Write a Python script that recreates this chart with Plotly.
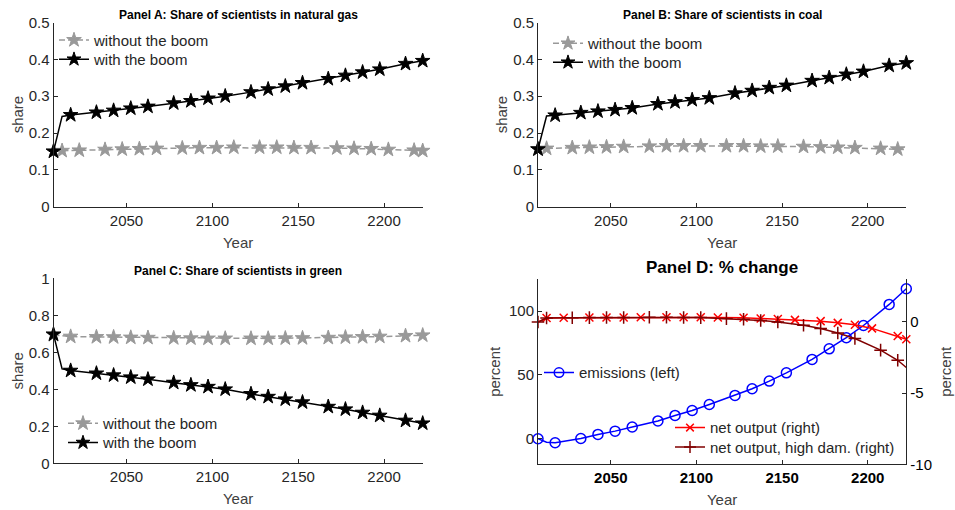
import plotly.graph_objects as go

# ---------------- data ----------------
# Panel A: share of scientists in natural gas
years_A_without = [2007.5, 2012.5, 2022.5, 2037.5, 2047.5, 2057.5, 2067.5, 2082.5, 2092.5, 2102.5, 2112.5,
                   2127.5, 2137.5, 2147.5, 2157.5, 2172.5, 2182.5, 2192.5, 2202.5, 2217.5, 2222.5]
share_A_without = [0.150, 0.152, 0.153, 0.155, 0.156, 0.157, 0.158, 0.159, 0.160, 0.160, 0.161,
                   0.161, 0.161, 0.160, 0.160, 0.159, 0.158, 0.157, 0.155, 0.153, 0.152]
years_A_with = [2007.5, 2012.5, 2017.5, 2032.5, 2042.5, 2052.5, 2062.5, 2077.5, 2087.5, 2097.5, 2107.5,
                2122.5, 2132.5, 2142.5, 2152.5, 2167.5, 2177.5, 2187.5, 2197.5, 2212.5, 2222.5]
share_A_with = [0.150, 0.245, 0.249, 0.256, 0.261, 0.267, 0.272, 0.281, 0.287, 0.294, 0.300,
                0.311, 0.319, 0.327, 0.336, 0.347, 0.356, 0.365, 0.373, 0.388, 0.396]

# Panel B: share of scientists in coal
years_B_without = [2007.5, 2012.5, 2027.5, 2037.5, 2047.5, 2057.5, 2072.5, 2082.5, 2092.5, 2102.5, 2117.5,
                   2127.5, 2137.5, 2147.5, 2162.5, 2172.5, 2182.5, 2192.5, 2207.5, 2217.5, 2222.5]
share_B_without = [0.156, 0.158, 0.160, 0.161, 0.162, 0.163, 0.164, 0.165, 0.165, 0.165, 0.165,
                   0.165, 0.164, 0.164, 0.163, 0.162, 0.161, 0.160, 0.158, 0.156, 0.155]
years_B_with = years_A_with
share_B_with = [0.156, 0.246, 0.248, 0.255, 0.259, 0.263, 0.268, 0.279, 0.284, 0.290, 0.295,
                0.308, 0.315, 0.323, 0.329, 0.342, 0.350, 0.359, 0.367, 0.383, 0.390]

# Panel C: share of scientists in green
years_C_without = [2007.5, 2017.5, 2032.5, 2042.5, 2052.5, 2062.5, 2077.5, 2087.5, 2097.5, 2107.5,
                   2122.5, 2132.5, 2142.5, 2152.5, 2167.5, 2177.5, 2187.5, 2197.5, 2212.5, 2222.5]
share_C_without = [0.694, 0.685, 0.683, 0.682, 0.680, 0.679, 0.677, 0.676, 0.675, 0.675,
                   0.675, 0.675, 0.676, 0.677, 0.679, 0.681, 0.683, 0.685, 0.689, 0.692]
years_C_with = years_A_with
share_C_with = [0.697, 0.510, 0.501, 0.486, 0.476, 0.465, 0.454, 0.436, 0.423, 0.414, 0.400,
                0.375, 0.360, 0.346, 0.330, 0.306, 0.292, 0.274, 0.258, 0.231, 0.216]

# Panel D: % change
years_D_emis = years_A_with
pct_emissions = [0.0, -2.7, -3.1, 0.2, 3.4, 6.0, 9.2, 14.0, 18.3, 22.2, 26.9,
                 34.0, 39.2, 45.2, 51.7, 62.2, 70.5, 79.2, 88.8, 105.3, 117.6]
years_D_net = years_A_without
pct_net_output = [0.0, 0.28, 0.30, 0.31, 0.32, 0.32, 0.33, 0.33, 0.33, 0.33, 0.32,
                  0.30, 0.25, 0.21, 0.15, 0.06, -0.06, -0.20, -0.45, -0.98, -1.21]
years_D_high = years_B_without
pct_net_output_high = [0.0, 0.28, 0.30, 0.31, 0.32, 0.32, 0.33, 0.33, 0.32, 0.31, 0.24,
                       0.19, 0.11, 0.00, -0.23, -0.46, -0.77, -1.16, -1.98, -2.69, -3.20]

# points of each line drawn without a marker
unmarked_A_with = [2012.5]
unmarked_B_without = [2222.5]
unmarked_D_emis = [2012.5]
unmarked_D_net = [2007.5]
unmarked_D_high = [2222.5]

x_ticks = [2050, 2100, 2150, 2200]

# ---------------- style ----------------
FONT = "Liberation Sans, Arial, Helvetica, sans-serif"
TXT = "#262626"
AXC = "#262626"
GRAY = "#999999"
BLACK = "#000000"
BLUE = "#0000ff"
RED = "#ff0000"
DARKRED = "#800000"
W, H = 955, 510
FS = 15
ROW_OFF = 17.0   # legend top -> first row centre


def px_x(a, b):
    return [a / W, b / W]


def px_y(top, bottom):
    return [1 - bottom / H, 1 - top / H]


def msize(years, unmarked, s):
    return [0 if yr in unmarked else s for yr in years]


fig = go.Figure()


def star_trace(x, y, name, color, dash, xa, ya, leg, unmarked=()):
    return go.Scatter(
        x=x, y=y, name=name, mode="lines+markers", cliponaxis=False,
        line=dict(color=color, width=1.5, dash=dash),
        marker=dict(symbol="star", size=msize(x, unmarked, 11), color=color, opacity=1,
                    line=dict(color=color, width=1)),
        xaxis=xa, yaxis=ya, legend=leg)


fig.add_trace(star_trace(years_A_without, share_A_without, "without the boom", GRAY, "6px,3px", "x", "y", "legend"))
fig.add_trace(star_trace(years_A_with, share_A_with, "with the boom", BLACK, "solid", "x", "y", "legend2", unmarked_A_with))
fig.add_trace(star_trace(years_B_without, share_B_without, "without the boom", GRAY, "6px,3px", "x2", "y2", "legend3", unmarked_B_without))
fig.add_trace(star_trace(years_B_with, share_B_with, "with the boom", BLACK, "solid", "x2", "y2", "legend4", unmarked_A_with))
fig.add_trace(star_trace(years_C_without, share_C_without, "without the boom", GRAY, "6px,3px", "x3", "y3", "legend5"))
fig.add_trace(star_trace(years_C_with, share_C_with, "with the boom", BLACK, "solid", "x3", "y3", "legend6", unmarked_A_with))

fig.add_trace(go.Scatter(
    x=years_D_emis, y=pct_emissions, name="emissions (left)", mode="lines+markers", cliponaxis=False,
    line=dict(color=BLUE, width=1.5),
    marker=dict(symbol="circle-open", size=msize(years_D_emis, unmarked_D_emis, 10), color=BLUE, opacity=1,
                line=dict(color=BLUE, width=1.5)),
    xaxis="x4", yaxis="y4", legend="legend7"))
fig.add_trace(go.Scatter(
    x=years_D_net, y=pct_net_output, name="net output (right)", mode="lines+markers", cliponaxis=False,
    line=dict(color=RED, width=1.5),
    marker=dict(symbol="x-thin-open", size=msize(years_D_net, unmarked_D_net, 8), color=RED, opacity=1,
                line=dict(color=RED, width=1.5)),
    xaxis="x4", yaxis="y5", legend="legend8"))
fig.add_trace(go.Scatter(
    x=years_D_high, y=pct_net_output_high, name="net output, high dam. (right)", mode="lines+markers",
    cliponaxis=False,
    line=dict(color=DARKRED, width=1.5),
    marker=dict(symbol="cross-thin-open", size=msize(years_D_high, unmarked_D_high, 9), color=DARKRED,
                opacity=1, line=dict(color=DARKRED, width=1.5)),
    xaxis="x4", yaxis="y5", legend="legend9"))

common_ax = dict(showline=True, linecolor=AXC, linewidth=1, ticks="inside", ticklen=4,
                 tickcolor=AXC, showgrid=False, zeroline=False,
                 tickfont=dict(family=FONT, size=FS, color=TXT))


def xaxis(domain, anchor, bold=False):
    d = dict(common_ax)
    d.update(domain=domain, anchor=anchor, range=[2007.5, 2222.5], tickvals=x_ticks,
             title=dict(text="Year", font=dict(family=FONT, size=FS, color="#404040"), standoff=9))
    if bold:
        d["tickfont"] = dict(family=FONT, size=FS, color="#000000", weight="bold")
    return d


def yaxis(domain, anchor, rng, dtick, title="share", standoff=1):
    d = dict(common_ax)
    d.update(domain=domain, anchor=anchor, range=rng, dtick=dtick, tick0=0,
             title=dict(text=title, font=dict(family=FONT, size=FS, color="#404040"), standoff=standoff))
    return d


XA = px_x(53.5, 422.7)
XB = px_x(538, 906.3)
YT = px_y(22.5, 206.7)
YC = px_y(278.3, 463.3)
YD = px_y(279.3, 464.3)

legend_common = dict(bgcolor="rgba(0,0,0,0)", borderwidth=0, xanchor="left", yanchor="top",
                     font=dict(family=FONT, size=FS, color="#262626"), itemwidth=30)


def leg(x_px, row_px):
    return dict(legend_common, x=x_px / W, y=1 - (row_px - ROW_OFF) / H)


fig.update_layout(
    width=W, height=H, margin=dict(l=0, r=0, t=0, b=0, autoexpand=False),
    paper_bgcolor="white", plot_bgcolor="white",
    font=dict(family=FONT, size=FS, color=TXT),
    xaxis=xaxis(XA, "y"), yaxis=yaxis(YT, "x", [0, 0.5], 0.1),
    xaxis2=xaxis(XB, "y2"), yaxis2=yaxis(YT, "x2", [0, 0.5], 0.1),
    xaxis3=xaxis(XA, "y3"), yaxis3=yaxis(YC, "x3", [0, 1], 0.2),
    xaxis4=xaxis(XB, "y4", bold=True),
    yaxis4=yaxis(YD, "x4", [-20, 125], 50, title="percent", standoff=4),
    yaxis5=dict(common_ax, domain=YD, anchor="x4", overlaying="y4", side="right", range=[-10, 3],
                tickvals=[-10, -5, 0], ticktext=["-10", "-5", "0"],
                tickfont=dict(family=FONT, size=FS, color="#000000"),
                title=dict(text="percent", font=dict(family=FONT, size=FS, color="#404040"), standoff=9)),
    legend=leg(54, 40.7), legend2=leg(54, 60),
    legend3=leg(548, 44), legend4=leg(548, 63),
    legend5=leg(63, 424), legend6=leg(63, 443.3),
    legend7=leg(539, 373.3),
    legend8=leg(670, 428.3), legend9=leg(670, 447.7),
    showlegend=True,
)

titles = [
    ("Panel A: Share of scientists in natural gas", 238, 15, 12),
    ("Panel B: Share of scientists in coal", 722, 15, 12),
    ("Panel C: Share of scientists in green", 238, 271, 12),
    ("Panel D: % change", 722, 267, 17),
]
for text, cx, cy, size in titles:
    fig.add_annotation(text=text, x=cx / W, y=1 - cy / H, xref="paper", yref="paper",
                       xanchor="center", yanchor="middle", showarrow=False,
                       font=dict(family=FONT, size=size, color="#000000", weight="bold"))

fig.write_html("out.html", config={"displayModeBar": False},
               post_script="document.body.style.margin='0px';")
